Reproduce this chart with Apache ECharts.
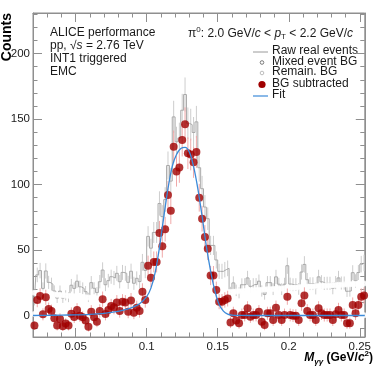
<!DOCTYPE html>
<html>
<head>
<meta charset="utf-8">
<script src="https://cdn.jsdelivr.net/npm/echarts@6/dist/echarts.min.js"></script>
<style>
  html, body { margin: 0; padding: 0; background: #fff; }
  #chart { width: 374px; height: 367px; }
</style>
</head>
<body>
<div id="chart"></div>
<script>
// binning of the invariant mass histogram (GeV/c^2)
var binStart = 0.021;
var binWidth = 0.002;

// raw real events per bin
var rawCounts = [
  11.1, 31.1, 34.4, 20.8, 34.1, 25.4, 24.1, 18.8, 13.4, 18.7,
  13.4, 15.5, 14.1, 23.2, 20.8, 26.3, 22.0, 20.8, 18.3, 13.8,
  25.2, 20.9, 17.6, 25.9, 34.8, 23.6, 26.7, 29.7, 28.7, 32.3,
  25.9, 33.0, 32.3, 25.4, 33.9, 24.7, 28.5, 26.0, 40.7, 34.5,
  60.5, 51.5, 63.5, 63.5, 85.6, 75.6, 88.6, 114.6, 102.7, 151.7,
  132.7, 135.7, 156.8, 168.8, 146.8, 145.8, 139.8, 147.9, 112.9, 96.9,
  82.9, 74.0, 53.6, 53.6, 42.5, 33.8, 33.8, 35.1, 36.1, 17.8,
  25.0, 19.3, 17.4, 23.6, 23.7, 28.8, 22.4, 23.7, 23.8, 26.3,
  18.8, 16.2, 25.2, 25.2, 20.2, 29.6, 24.0, 20.2, 24.0, 38.1,
  24.1, 23.6, 23.7, 20.4, 33.3, 39.1, 27.4, 24.4, 24.4, 20.7,
  29.6, 25.8, 24.6, 24.7, 24.7, 20.9, 25.2, 28.8, 24.9, 24.9,
  18.6, 18.8, 32.8, 26.5, 32.9, 39.3, 40.2
];
// statistical uncertainty per bin
var rawErr = [
  3.3, 5.6, 5.9, 4.6, 5.8, 5.0, 4.9, 4.3, 3.7, 4.3,
  3.7, 3.9, 3.8, 4.8, 4.6, 5.1, 4.7, 4.6, 4.3, 3.7,
  5.0, 4.6, 4.2, 5.1, 5.9, 4.9, 5.2, 5.4, 5.4, 5.7,
  5.1, 5.7, 5.7, 5.0, 5.8, 5.0, 5.3, 5.1, 6.4, 5.9,
  7.8, 7.2, 8.0, 8.0, 9.3, 8.7, 9.4, 10.7, 10.1, 12.3,
  11.5, 11.6, 12.5, 13.0, 12.1, 12.1, 11.8, 12.2, 10.6, 9.8,
  9.1, 8.6, 7.3, 7.3, 6.5, 5.8, 5.8, 5.9, 6.0, 4.2,
  5.0, 4.4, 4.2, 4.9, 4.9, 5.4, 4.7, 4.9, 4.9, 5.1,
  4.3, 4.0, 5.0, 5.0, 4.5, 5.4, 4.9, 4.5, 4.9, 6.2,
  4.9, 4.9, 4.9, 4.5, 5.8, 6.3, 5.2, 4.9, 4.9, 4.5,
  5.4, 5.1, 5.0, 5.0, 5.0, 4.6, 5.0, 5.4, 5.0, 5.0,
  4.3, 4.3, 5.7, 5.1, 5.7, 6.3, 6.3
];
// mixed event background (scaled)
var mixedBG = [
  1.2, 1.8, 2.3, 2.8, 3.3, 3.8, 4.2, 4.6, 5.0, 5.4,
  5.8, 6.1, 6.4, 6.7, 7.0, 7.3, 7.6, 7.9, 8.1, 8.4,
  8.6, 8.8, 9.0, 9.3, 9.5, 9.7, 9.9, 10.1, 10.3, 10.5,
  10.7, 10.9, 11.1, 11.4, 11.6, 11.8, 12.0, 12.2, 12.4, 12.6,
  12.8, 13.0, 13.2, 13.4, 13.6, 13.8, 14.0, 14.2, 14.4, 14.6,
  14.8, 15.0, 15.2, 15.4, 15.5, 15.7, 15.9, 16.1, 16.3, 16.4,
  16.6, 16.8, 17.0, 17.1, 17.3, 17.5, 17.7, 17.8, 18.0, 18.1,
  18.3, 18.4, 18.6, 18.7, 18.9, 19.0, 19.2, 19.3, 19.5, 19.6,
  19.8, 19.9, 20.1, 20.2, 20.4, 20.5, 20.6, 20.8, 20.9, 21.1,
  21.2, 21.3, 21.5, 21.6, 21.8, 21.9, 22.0, 22.2, 22.3, 22.5,
  22.6, 22.7, 22.8, 23.0, 23.1, 23.2, 23.3, 23.5, 23.6, 23.7,
  23.8, 24.0, 24.1, 24.2, 24.3, 24.5, 24.6
];
// remaining (residual) background
var remainBG = [
  17.5, 17.3, 17.1, 17.0, 16.8, 16.6, 16.4, 16.2, 16.0, 15.8,
  15.6, 15.4, 15.2, 15.0, 14.8, 14.6, 14.4, 14.2, 14.0, 13.8,
  13.6, 13.4, 13.2, 13.0, 12.8, 12.6, 12.4, 12.2, 12.0, 11.8,
  11.6, 11.4, 11.2, 11.0, 10.8, 10.6, 10.4, 10.2, 10.0, 9.9,
  9.7, 9.5, 9.3, 9.1, 9.0, 8.8, 8.6, 8.4, 8.3, 8.1,
  7.9, 7.7, 7.6, 7.4, 7.3, 7.1, 6.9, 6.8, 6.6, 6.5,
  6.3, 6.2, 6.0, 5.9, 5.7, 5.6, 5.4, 5.3, 5.1, 5.0,
  4.9, 4.7, 4.6, 4.4, 4.3, 4.2, 4.0, 3.9, 3.8, 3.7,
  3.6, 3.4, 3.3, 3.2, 3.1, 3.0, 2.9, 2.7, 2.6, 2.5,
  2.4, 2.3, 2.2, 2.1, 2.0, 1.9, 1.8, 1.7, 1.6, 1.5,
  1.4, 1.3, 1.3, 1.2, 1.1, 1.0, 0.9, 0.9, 0.8, 0.7,
  0.6, 0.6, 0.5, 0.5, 0.4, 0.3, 0.3
];
// background subtracted signal
var bgSub = [
  -7.6, 12, 15, 1, 14, 5, 3.5, -2, -7.6, -2.5,
  -8, -6, -7.5, 1.5, -1, 4.4, 0, -1.3, -3.8, -8.4,
  3, -1.3, -4.6, 3.6, 12.5, 1.3, 4.4, 7.4, 6.4, 10,
  3.6, 10.7, 10, 3, 11.5, 2.3, 6.1, 3.6, 18.3, 12,
  38, 29, 41, 41, 63, 53, 66, 92, 80, 129,
  110, 113, 134, 146, 124, 123, 117, 125, 90, 74,
  60, 51, 30.6, 30.6, 19.5, 10.7, 10.7, 12, 13, -5.3,
  1.8, -3.8, -5.8, 0.5, 0.5, 5.6, -0.8, 0.5, 0.5, 3,
  -4.6, -7.1, 1.8, 1.8, -3.3, 6.1, 0.5, -3.3, 0.5, 14.5,
  0.5, 0, 0, -3.3, 9.5, 15.3, 3.6, 0.5, 0.5, -3.3,
  5.6, 1.8, 0.5, 0.5, 0.5, -3.3, 1, 4.4, 0.5, 0.5,
  -5.8, -5.8, 8.2, 1.8, 8.2, 14.5, 15.3
];
// fit curve
var fitX = [0.020, 0.030, 0.040, 0.050, 0.060, 0.070, 0.080, 0.085, 0.090, 0.095,
  0.100, 0.103, 0.106, 0.109, 0.112, 0.115, 0.118, 0.121, 0.124, 0.127,
  0.130, 0.133, 0.136, 0.139, 0.142, 0.145, 0.148, 0.151, 0.154, 0.157,
  0.160, 0.165, 0.180, 0.200, 0.220, 0.2535];
var fitY = [0.1, 0.2, 0.4, 0.6, 1.0, 1.8, 3.3, 4.6, 6.3, 9.0,
  14.5, 21, 33, 52, 75, 97, 114, 123, 127.5, 128.5,
  125, 114, 97, 76, 53, 34, 19, 8.5, 3.5, 1.2,
  0.4, 0.2, 0.1, 0.1, 0.1, 0.1];

var xMajor = [0.05, 0.1, 0.15, 0.2, 0.25];
var xMinor = [0.03, 0.04, 0.06, 0.07, 0.08, 0.09, 0.11, 0.12, 0.13, 0.14,
  0.16, 0.17, 0.18, 0.19, 0.21, 0.22, 0.23, 0.24];
var yMajor = [0, 50, 100, 150, 200];
var yMinor = [-10, 10, 20, 30, 40, 60, 70, 80, 90, 110, 120, 130, 140,
  160, 170, 180, 190, 210, 220, 230];

var X_MIN = 0.02, X_MAX = 0.2535, Y_MIN = -16.3, Y_MAX = 231;
var frameColor = '#8f8f8f';
var textColor = '#1a1a1a';
var fontFamily = '"Liberation Sans", Arial, sans-serif';

var centres = rawCounts.map(function (v, i) { return binStart + i * binWidth; });

function xAxisDef(pos, ticks, len, labels) {
  return {
    type: 'value', min: X_MIN, max: X_MAX, position: pos,
    axisLine: { show: labels, onZero: false, lineStyle: { color: frameColor, width: 1 } },
    axisTick: { show: true, inside: true, length: len, customValues: ticks,
      lineStyle: { color: frameColor } },
    axisLabel: { show: labels && pos === 'bottom', customValues: ticks, color: textColor,
      fontSize: 11.5, fontFamily: fontFamily, margin: 4,
      formatter: function (v) { return String(+v.toFixed(2)); } },
    splitLine: { show: false }
  };
}
function yAxisDef(pos, ticks, len, labels) {
  return {
    type: 'value', min: Y_MIN, max: Y_MAX, position: pos,
    axisLine: { show: labels, onZero: false, lineStyle: { color: frameColor, width: 1 } },
    axisTick: { show: true, inside: true, length: len, customValues: ticks,
      lineStyle: { color: frameColor } },
    axisLabel: { show: labels && pos === 'left', customValues: ticks, color: textColor,
      fontSize: 11.5, fontFamily: fontFamily, margin: 3 },
    splitLine: { show: false }
  };
}

function errorBars(name, values, errs, color, z) {
  return {
    name: name, type: 'custom', z: z, silent: true,
    data: values.map(function (v, i) { return [centres[i], v - errs[i], v + errs[i]]; }),
    encode: { x: 0, y: [1, 2] },
    renderItem: function (params, api) {
      var lo = api.coord([api.value(0), api.value(1)]);
      var hi = api.coord([api.value(0), api.value(2)]);
      return { type: 'line', shape: { x1: lo[0], y1: lo[1], x2: hi[0], y2: hi[1] },
        style: { stroke: color, lineWidth: 1 } };
    }
  };
}

function pairs(xs, ys) {
  return ys.map(function (v, i) { return [xs[i], v]; });
}

var legendRows = [
  { label: 'Raw real events', y: 52 },
  { label: 'Mixed event BG', y: 62.5 },
  { label: 'Remain. BG', y: 73 },
  { label: 'BG subtracted', y: 84.5 },
  { label: 'Fit', y: 96 }
];
var legendGraphics = legendRows.map(function (r) {
  return { type: 'text', left: 272, top: r.y - 7,
    style: { text: r.label, fill: textColor, font: '12px ' + fontFamily } };
});
legendGraphics.push(
  { type: 'line', shape: { x1: 253, y1: 52, x2: 268, y2: 52 }, style: { stroke: '#9a9a9a', lineWidth: 1 } },
  { type: 'circle', shape: { cx: 262, cy: 62.5, r: 1.8 }, style: { fill: 'none', stroke: '#7a7a7a', lineWidth: 1 } },
  { type: 'circle', shape: { cx: 262, cy: 73, r: 1.8 }, style: { fill: 'none', stroke: '#bdbdbd', lineWidth: 1 } },
  { type: 'circle', shape: { cx: 262, cy: 84.5, r: 3.6 }, style: { fill: '#a00000' } },
  { type: 'line', shape: { x1: 253, y1: 96, x2: 268, y2: 96 }, style: { stroke: '#3b8ad9', lineWidth: 1.2 } }
);

var chart = echarts.init(document.getElementById('chart'));
var option = {
  animation: false,
  backgroundColor: '#fff',
  grid: { left: 33, top: 13, width: 336, height: 324, containLabel: false,
    show: true, borderColor: frameColor, borderWidth: 1, backgroundColor: 'transparent' },
  xAxis: [
    xAxisDef('bottom', xMajor, 9, true),
    xAxisDef('bottom', xMinor, 4.5, false),
    xAxisDef('top', xMajor, 9, true),
    xAxisDef('top', xMinor, 4.5, false)
  ],
  yAxis: [
    yAxisDef('left', yMajor, 9, true),
    yAxisDef('left', yMinor, 4.5, false),
    yAxisDef('right', yMajor, 9, true),
    yAxisDef('right', yMinor, 4.5, false)
  ],
  series: [
    errorBars('rawErr', rawCounts, rawErr, '#cdcdcd', 1),
    {
      name: 'Raw real events', type: 'line', step: 'middle', z: 2,
      data: pairs(centres, rawCounts), showSymbol: false, symbol: 'none',
      lineStyle: { color: '#a9a9a9', width: 1 }
    },
    {
      name: 'Mixed event BG', type: 'scatter', z: 3, symbol: 'emptyCircle', symbolSize: 4,
      data: pairs(centres, mixedBG),
      itemStyle: { color: '#fff', borderColor: '#7a7a7a', borderWidth: 0.8 }
    },
    {
      name: 'Remain. BG', type: 'scatter', z: 3, symbol: 'emptyCircle', symbolSize: 4,
      data: pairs(centres, remainBG),
      itemStyle: { color: '#fff', borderColor: '#bdbdbd', borderWidth: 0.8 }
    },
    errorBars('bgSubErr', bgSub, rawErr, '#f0a8a8', 4),
    {
      name: 'BG subtracted', type: 'scatter', z: 5, symbol: 'circle', symbolSize: 8,
      data: pairs(centres, bgSub),
      itemStyle: { color: '#a00000' }
    },
    {
      name: 'Fit', type: 'line', z: 6, smooth: 0.3, showSymbol: false, symbol: 'none',
      data: pairs(fitX, fitY),
      lineStyle: { color: '#3b8ad9', width: 1.3 }
    }
  ],
  graphic: [
    { type: 'text', x: 7.5, y: 13, rotation: Math.PI / 2,
      style: { text: 'Counts', fill: '#000', font: 'bold 14px ' + fontFamily,
        align: 'right', verticalAlign: 'middle' } },
    { type: 'text', right: 1, top: 350,
      style: {
        text: '{m|M}{g|γγ}{n| (GeV/}{i|c}{s|2}{n|)}',
        rich: {
          m: { font: 'bold italic 12px ' + fontFamily, fill: '#000', lineHeight: 16 },
          g: { font: 'bold italic 8px ' + fontFamily, fill: '#000', verticalAlign: 'bottom', lineHeight: 8 },
          n: { font: 'bold 12px ' + fontFamily, fill: '#000', lineHeight: 16 },
          i: { font: 'bold italic 12px ' + fontFamily, fill: '#000', lineHeight: 16 },
          s: { font: 'bold 8px ' + fontFamily, fill: '#000', verticalAlign: 'top', lineHeight: 8 }
        }
      } },
    { type: 'text', left: 50, top: 27,
      style: { text: 'ALICE performance', fill: textColor, font: '12px ' + fontFamily } },
    { type: 'text', left: 50, top: 40,
      style: {
        text: '{n|pp, √}{i|s}{n| = 2.76 TeV}',
        rich: {
          n: { font: '12px ' + fontFamily, fill: textColor },
          i: { font: 'italic 12px ' + fontFamily, fill: textColor }
        }
      } },
    { type: 'text', left: 50, top: 53,
      style: { text: 'INT1 triggered', fill: textColor, font: '12px ' + fontFamily } },
    { type: 'text', left: 50, top: 66,
      style: { text: 'EMC', fill: textColor, font: '12px ' + fontFamily } },
    { type: 'text', left: 188, top: 26,
      style: {
        text: '{n|π}{s|0}{n|: 2.0 GeV/}{i|c}{n| < }{i|p}{b|T}{n| < 2.2 GeV/}{i|c}',
        rich: {
          n: { font: '12px ' + fontFamily, fill: textColor, lineHeight: 15 },
          i: { font: 'italic 12px ' + fontFamily, fill: textColor, lineHeight: 15 },
          s: { font: '8px ' + fontFamily, fill: textColor, verticalAlign: 'top', lineHeight: 8 },
          b: { font: '8px ' + fontFamily, fill: textColor, verticalAlign: 'bottom', lineHeight: 8 }
        }
      } }
  ].concat(legendGraphics)
};
chart.setOption(option);
</script>
</body>
</html>
